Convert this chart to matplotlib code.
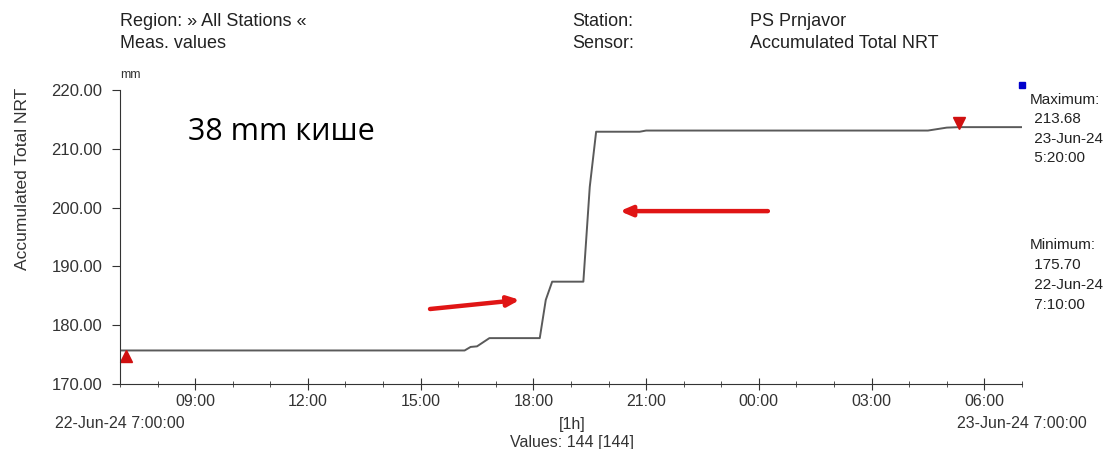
import matplotlib.pyplot as plt
from matplotlib.ticker import FixedLocator, MultipleLocator

plt.rcParams["font.family"] = ["Liberation Sans", "DejaVu Sans"]

# hours after 22-Jun-24 07:00 and accumulated precipitation (mm)
hours = [0.0, 9.17, 9.33, 9.5, 9.83, 11.17, 11.33, 11.5, 12.33, 12.5, 12.67,
         13.83, 14.0, 21.5, 22.0, 22.33, 24.0]
values = [175.70, 175.70, 176.3, 176.4, 177.8, 177.8, 184.3, 187.4, 187.4,
          203.5, 212.9, 212.9, 213.1, 213.1, 213.6, 213.68, 213.68]

max_hour, max_value = 22.33, 213.68
min_hour, min_value = 0.17, 175.70

major_hours = [2, 5, 8, 11, 14, 17, 20, 23]
major_labels = ["%02d:00" % ((7 + h) % 24) for h in major_hours]

fig = plt.figure(figsize=(11.12, 4.49), dpi=100)
ax = fig.add_axes([0.1079, 0.1448, 0.8111, 0.6548])

ax.plot(hours, values, color="#5a5a5a", linewidth=1.4)
ax.plot([min_hour], [min_value - 0.9], marker="^", color="#d01010",
        markersize=9, linestyle="none", clip_on=False)
ax.plot([max_hour], [max_value + 0.7], marker="v", color="#d01010",
        markersize=9, linestyle="none", clip_on=False)
ax.plot([24.0], [220.8], marker="s", color="#0000cc", markersize=5,
        linestyle="none", clip_on=False)

ax.set_xlim(0, 24)
ax.set_ylim(170, 220)
ax.yaxis.set_major_locator(MultipleLocator(10))
ax.yaxis.set_major_formatter(lambda v, p: "%.2f" % v)
ax.xaxis.set_major_locator(FixedLocator(major_hours))
ax.set_xticklabels(major_labels)
ax.xaxis.set_minor_locator(MultipleLocator(1))

for s in ["top", "right"]:
    ax.spines[s].set_visible(False)
for s in ["left", "bottom"]:
    ax.spines[s].set_color("#333333")
ax.tick_params(axis="x", which="major", length=8, direction="inout",
               labelsize=11.5, colors="#333333", pad=3)
ax.tick_params(axis="x", which="minor", length=5, direction="inout",
               colors="#333333")
ax.tick_params(axis="y", length=5.8, labelsize=12, colors="#333333", pad=7)
fig.text(23 / 1112, 1 - 179 / 449, "Accumulated Total NRT", fontsize=12.5,
         color="#333333", rotation=90, ha="center", va="center")

# red arrows
arrow = dict(arrowstyle="-|>,head_length=0.7,head_width=0.3",
             color="#e01515", lw=3.2, shrinkA=0, shrinkB=0)
ax.annotate("", xy=(10.64, 184.3), xytext=(8.25, 182.75), arrowprops=arrow)
ax.annotate("", xy=(13.3, 199.4), xytext=(17.24, 199.4), arrowprops=arrow)

ax.text(1.8, 212.8, "38 mm кише", fontsize=22, family="Open Sans",
        va="center", ha="left")

hdr = dict(fontsize=13, color="#222222", va="center")
fig.text(120 / 1112, 1 - 22 / 449, "Region: » All Stations «", **hdr)
fig.text(120 / 1112, 1 - 43 / 449, "Meas. values", **hdr)
fig.text(572 / 1112, 1 - 22 / 449, "Station:", **hdr)
fig.text(572 / 1112, 1 - 43 / 449, "Sensor:", **hdr)
fig.text(750 / 1112, 1 - 22 / 449, "PS Prnjavor", **hdr)
fig.text(750 / 1112, 1 - 43 / 449, "Accumulated Total NRT", **hdr)
fig.text(120 / 1112, 1 - 75 / 449, "mm", fontsize=9, color="#333333",
         va="center")

side = dict(fontsize=11, color="#222222", va="center")
max_lines = ["Maximum:", " %.2f" % max_value, " 23-Jun-24", " 5:20:00"]
min_lines = ["Minimum:", " %.2f" % min_value, " 22-Jun-24", " 7:10:00"]
for i, t in enumerate(max_lines):
    fig.text(1030 / 1112, 1 - (100 + 19.5 * i) / 449, t, **side)
for i, t in enumerate(min_lines):
    fig.text(1030 / 1112, 1 - (245 + 20 * i) / 449, t, **side)

bot = dict(fontsize=11.5, color="#333333", va="center")
fig.text(55 / 1112, 1 - 424 / 449, "22-Jun-24 7:00:00", **bot)
fig.text(1087 / 1112, 1 - 424 / 449, "23-Jun-24 7:00:00", ha="right", **bot)
fig.text(572 / 1112, 1 - 424 / 449, "[1h]", ha="center", **bot)
fig.text(572 / 1112, 1 - 442 / 449, "Values: 144 [144]", ha="center", **bot)

fig.savefig("out.png", dpi=100, facecolor="white")
